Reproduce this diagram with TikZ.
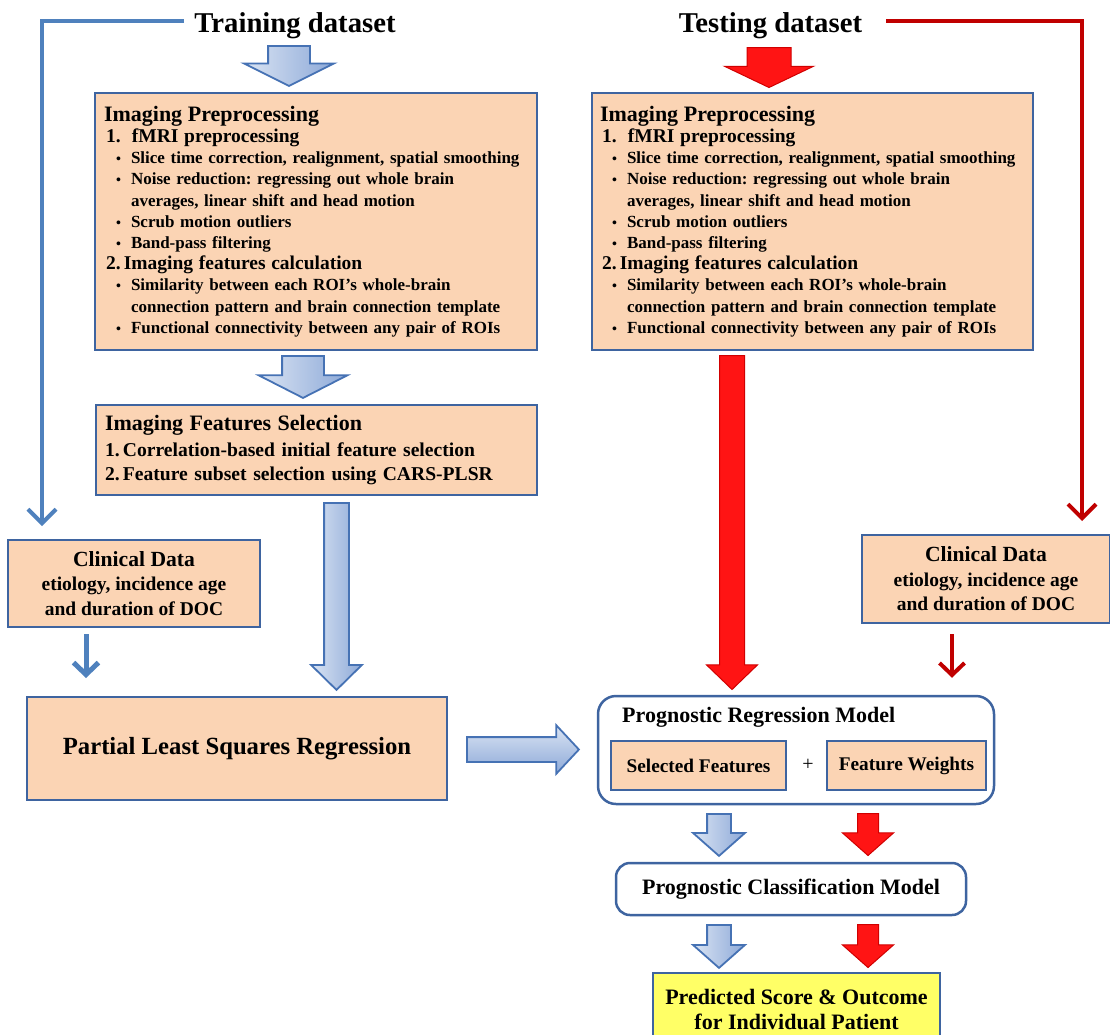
\documentclass[tikz,border=0pt]{standalone}
\usepackage{fontspec}
\setmainfont{Liberation Serif}
\usepackage{tikz}
\usetikzlibrary{arrows.meta, positioning, shapes.arrows}

\definecolor{boxfill}{HTML}{FBD4B4}
\definecolor{boxline}{HTML}{3E64A0}
\definecolor{trainblue}{HTML}{4F81BD}
\definecolor{testred}{HTML}{C00000}
\definecolor{arrowlight}{HTML}{DAE4F3}
\definecolor{arrowdark}{HTML}{8DA9D8}
\definecolor{arrowline}{HTML}{4672B4}
\definecolor{arrowred}{HTML}{FF1414}
\definecolor{redline}{HTML}{D00000}
\definecolor{outyellow}{HTML}{FFFF66}

\newcommand{\bodyfont}{\fontsize{17}{21.2}\selectfont\bfseries}
\newcommand{\selfont}{\fontsize{19.6}{24.5}\selectfont\bfseries}
\newcommand{\clinfont}{\fontsize{19.5}{24.5}\selectfont\bfseries}
\newcommand{\modelfont}{\fontsize{22}{26}\selectfont\bfseries}
\newcommand{\featfont}{\fontsize{19.3}{22}\selectfont\bfseries}

\newcommand{\boxhead}[1]{{\fontsize{22}{21.2}\selectfont #1}}
\newcommand{\boxnum}[1]{{\fontsize{19.5}{21.2}\selectfont\hspace*{2pt}#1}}
\newcommand{\boxitem}[1]{\hspace*{12pt}\makebox[15pt][l]{\fontsize{14}{14}\selectfont\textbullet}#1}
\newcommand{\boxcont}[1]{\hspace*{27pt}#1}

% same text in both preprocessing boxes
\newcommand{\preproclist}{%
  \boxhead{Imaging Preprocessing}\\
  \boxnum{1.\ \ fMRI preprocessing}\\
  \boxitem{Slice time correction, realignment, spatial smoothing}\\
  \boxitem{Noise reduction: regressing out whole brain}\\
  \boxcont{averages, linear shift and head motion}\\
  \boxitem{Scrub motion outliers}\\
  \boxitem{Band-pass filtering}\\
  \boxnum{2.\,Imaging features calculation}\\
  \boxitem{Similarity between each ROI’s whole-brain}\\
  \boxcont{connection pattern and brain connection template}\\
  \boxitem{Functional connectivity between any pair of ROIs}}

\frenchspacing

\begin{document}
\begin{tikzpicture}[x=1pt, y=-1pt,
    box/.style={draw=boxline, line width=2pt, fill=boxfill, inner xsep=9pt, inner ysep=0pt},
    roundbox/.style={draw=boxline, line width=2.5pt, fill=white, inner sep=0pt},
    title/.style={font=\fontsize{28.7}{32}\selectfont\bfseries, inner xsep=10pt},
    fatblue/.style={single arrow, draw=arrowline, line width=1.8pt, left color=arrowlight, right color=arrowdark, shape border rotate=270, anchor=tail, inner ysep=0pt},
    fatred/.style={single arrow, draw=redline, line width=1pt, fill=arrowred, shape border rotate=270, anchor=tail, inner ysep=0pt},
    trainline/.style={draw=trainblue, line width=4pt, -{Straight Barb[length=14pt, width=28pt]}},
    testline/.style={draw=testred, line width=4pt, -{Straight Barb[length=14pt, width=28pt]}}]

    \useasboundingbox (0,0) rectangle (1110,1034);

    % Dataset titles
    \node (traintitle) [title, anchor=base] at (295,32) {Training dataset};
    \node (testtitle) [title, anchor=base] at (770.5,32) {Testing dataset};

    % Preprocessing boxes
    \node (trainpre) [box, minimum width=442pt, minimum height=257pt, text width=424pt, align=left, font=\bodyfont] at (316,221.5) {\preproclist};
    \node (testpre) [box, inner xsep=8pt, minimum width=441pt, minimum height=257pt, text width=425pt, align=left, font=\bodyfont] at (812.5,221.5) {\preproclist};

    % Feature selection
    \node (trainsel) [box, minimum width=441pt, minimum height=90pt, text width=423pt, align=left, font=\selfont] at (316.5,450) {\boxhead{Imaging Features Selection}\\[1.5pt]1.\,Correlation-based initial feature selection\\2.\,Feature subset selection using CARS-PLSR};

    % Clinical data
    \node (clinL) [box, minimum width=252pt, minimum height=87pt, align=center, font=\clinfont] at (134,583.5) {{\fontsize{21.6}{24.5}\selectfont Clinical Data}\\etiology, incidence age\\and duration of DOC};
    \node (clinR) [box, minimum width=248pt, minimum height=88pt, align=center, font=\clinfont] at (986,579) {{\fontsize{21.6}{24.5}\selectfont Clinical Data}\\etiology, incidence age\\and duration of DOC};

    % PLSR
    \node (plsr) [box, minimum width=420pt, minimum height=103pt, font=\fontsize{24.7}{28}\selectfont\bfseries] at (237,748.5) {Partial Least Squares Regression};

    % Regression model
    \node (regmodel) [roundbox, rounded corners=18pt, minimum width=396pt, minimum height=108pt] at (796,750) {};
    \node (regtitle) [anchor=base west, inner sep=0pt, font=\modelfont] at (622,722) {Prognostic Regression Model};
    \node (selfeat) [box, minimum width=175pt, minimum height=49pt, font=\featfont] at (698.5,765.5) {Selected Features};
    \node (plus) [font=\fontsize{20}{22}\selectfont] at (808,765) {+};
    \node (featw) [box, minimum width=159pt, minimum height=49pt, font=\featfont] at (906.5,765.5) {Feature Weights};

    % Classification and outcome
    \node (classmodel) [roundbox, rounded corners=14pt, minimum width=350pt, minimum height=52pt, font=\modelfont] at (791,889) {Prognostic Classification Model};
    \node (outcome) [box, fill=outyellow, minimum width=287pt, minimum height=72pt, align=center, font=\fontsize{22}{25}\selectfont\bfseries] at (796.5,1009) {Predicted Score \& Outcome\\for Individual Patient};

    % Block arrows (placed by their tails)
    \node (fatA) [fatblue, inner xsep=20pt, minimum height=40pt, minimum width=88pt, single arrow head extend=24pt, single arrow tip angle=127] at (289,45) {};
    \node (fatB) [fatblue, inner xsep=20pt, minimum height=42pt, minimum width=87pt, single arrow head extend=23.5pt, single arrow tip angle=126] at (303,355) {};
    \node (fatC) [fatblue, inner xsep=11.5pt, minimum height=187pt, minimum width=49pt, single arrow head extend=13pt, single arrow tip angle=91] at (336.5,502) {};
    \node (fatD) [fatblue, shape border rotate=0, top color=arrowlight, bottom color=arrowdark, inner xsep=0pt, inner ysep=11.5pt, minimum height=112pt, minimum width=47pt, single arrow head extend=12pt, single arrow tip angle=94] at (466,749.5) {};
    \node (fatE) [fatblue, inner xsep=11pt, minimum height=42pt, minimum width=50pt, single arrow head extend=14pt, single arrow tip angle=97] at (719,813) {};
    \node (fatF) [fatblue, inner xsep=11pt, minimum height=43pt, minimum width=50pt, single arrow head extend=14pt, single arrow tip angle=97] at (719,924) {};
    \node (redA) [fatred, inner xsep=21.5pt, minimum height=40pt, minimum width=88pt, single arrow head extend=22.5pt, single arrow tip angle=129] at (769,47) {};
    \node (redC) [fatred, inner xsep=12pt, minimum height=334pt, minimum width=50pt, single arrow head extend=13pt, single arrow tip angle=92] at (732,355) {};
    \node (redE) [fatred, inner xsep=10pt, minimum height=42pt, minimum width=50pt, single arrow head extend=15pt, single arrow tip angle=97] at (868,813) {};
    \node (redF) [fatred, inner xsep=10pt, minimum height=43pt, minimum width=50pt, single arrow head extend=15pt, single arrow tip angle=97] at (868,924) {};

    % Clinical data lines
    \draw[trainline] ([yshift=4pt]traintitle.west) -| ([xshift=35pt, yshift=13pt]clinL.north west);
    \draw[testline] ([xshift=14pt, yshift=4pt]testtitle.east) -| ([xshift=221pt, yshift=13pt]clinR.north west);
    \draw[trainblue, line width=5pt, -{Straight Barb[length=12pt, width=25pt]}, shorten <=6pt, shorten >=18pt] ([xshift=-48pt]clinL.south) -- ([xshift=-48pt]clinL.south |- plsr.north);
    \draw[testred, line width=4pt, -{Straight Barb[length=12pt, width=25pt]}, shorten <=10pt, shorten >=17pt] ([xshift=-34pt]clinR.south) -- ([xshift=-34pt]clinR.south |- regmodel.north);
\end{tikzpicture}
\end{document}
